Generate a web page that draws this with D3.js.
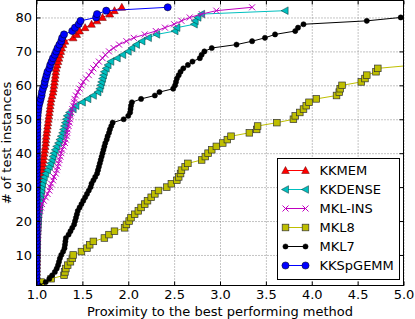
<!DOCTYPE html>
<html>
<head>
<meta charset="utf-8">
<script src="https://cdn.jsdelivr.net/npm/d3@7"></script>
<style>
  body { margin: 0; background: #fff; }
  svg { display: block; font-family: "DejaVu Sans", sans-serif; }
  .grid line { stroke: #888; stroke-width: 1; stroke-dasharray: 1,2; }
  .grid path { display: none; }
</style>
</head>
<body>
<div id="chart"></div>
<script>
// performance profile: k-th value is the ratio of the k-th instance (y = k)
var kkmem = [1.000,1.000,1.000,1.001,1.001,1.002,1.002,1.003,1.003,1.004,
  1.004,1.005,1.005,1.006,1.007,1.008,1.009,1.010,1.011,1.012,
  1.013,1.015,1.017,1.019,1.021,1.023,1.025,1.028,1.031,1.035,
  1.040,1.045,1.050,1.055,1.060,1.065,1.070,1.075,1.080,1.085,
  1.090,1.095,1.100,1.102,1.105,1.110,1.115,1.120,1.125,1.130,
  1.135,1.140,1.145,1.150,1.155,1.160,1.170,1.180,1.185,1.190,
  1.195,1.200,1.205,1.210,1.215,1.225,1.235,1.245,1.255,1.265,
  1.275,1.290,1.310,1.400,1.440,1.470,1.530,1.600,1.660,1.720,
  1.800,1.850,1.930];
var kkdense = [1.000,1.000,1.001,1.001,1.002,1.002,1.003,1.004,1.005,1.006,
  1.007,1.008,1.009,1.010,1.011,1.012,1.014,1.016,1.018,1.020,
  1.022,1.025,1.028,1.031,1.035,1.040,1.045,1.050,1.055,1.060,
  1.065,1.075,1.085,1.100,1.120,1.140,1.155,1.170,1.180,1.190,
  1.205,1.220,1.240,1.255,1.270,1.285,1.295,1.305,1.315,1.325,
  1.335,1.360,1.400,1.430,1.500,1.560,1.620,1.670,1.690,1.700,
  1.710,1.720,1.730,1.740,1.760,1.780,1.810,1.880,1.940,2.000,
  2.040,2.090,2.150,2.220,2.310,2.510,2.530,2.720,2.730,2.760,
  2.800,3.710];
var mklIns = [1.000,1.001,1.002,1.003,1.004,1.005,1.006,1.007,1.008,1.009,
  1.010,1.011,1.012,1.013,1.014,1.015,1.016,1.017,1.018,1.019,
  1.020,1.030,1.040,1.050,1.060,1.080,1.100,1.120,1.140,1.150,
  1.160,1.180,1.190,1.210,1.220,1.230,1.240,1.250,1.260,1.270,
  1.280,1.295,1.310,1.320,1.330,1.335,1.340,1.350,1.360,1.365,
  1.370,1.380,1.390,1.400,1.410,1.415,1.430,1.450,1.470,1.490,
  1.510,1.540,1.570,1.600,1.620,1.650,1.680,1.720,1.750,1.790,
  1.840,1.900,1.980,2.060,2.180,2.300,2.400,2.500,2.580,2.670,
  2.800,2.960,3.350];
var mkl8 = [1.000,1.050,1.160,1.300,1.310,1.320,1.340,1.370,1.390,1.400,
  1.490,1.550,1.580,1.620,1.740,1.790,1.850,1.960,1.980,2.010,
  2.030,2.070,2.110,2.140,2.180,2.210,2.250,2.290,2.330,2.420,
  2.470,2.530,2.550,2.570,2.580,2.620,2.650,2.800,2.840,2.870,
  2.910,2.960,3.030,3.080,3.120,3.320,3.400,3.410,3.620,3.800,
  3.820,3.870,3.910,3.940,3.970,4.050,4.270,4.300,4.310,4.330,
  4.540,4.580,4.600,4.700,4.720,5.130];
var mkl7 = [1.030,1.100,1.140,1.170,1.200,1.220,1.235,1.245,1.255,1.270,
  1.290,1.305,1.310,1.315,1.320,1.350,1.370,1.390,1.410,1.420,
  1.430,1.440,1.450,1.470,1.490,1.510,1.530,1.550,1.570,1.590,
  1.600,1.620,1.640,1.660,1.670,1.680,1.690,1.700,1.710,1.720,
  1.730,1.740,1.750,1.765,1.775,1.790,1.800,1.815,1.830,1.950,
  2.000,2.020,2.025,2.030,2.040,2.140,2.290,2.340,2.490,2.510,
  2.520,2.530,2.550,2.570,2.600,2.650,2.700,2.780,2.800,2.830,
  2.910,3.180,3.350,3.490,3.600,3.820,3.850,3.910,4.600,4.970];
var kkspgemm = [1.000,1.000,1.000,1.000,1.000,1.000,1.000,1.000,1.000,1.000,
  1.000,1.000,1.000,1.000,1.000,1.000,1.000,1.000,1.000,1.000,
  1.001,1.001,1.001,1.001,1.001,1.002,1.002,1.002,1.002,1.002,
  1.003,1.003,1.003,1.003,1.003,1.004,1.004,1.004,1.005,1.005,
  1.006,1.006,1.007,1.007,1.008,1.008,1.009,1.009,1.010,1.010,
  1.012,1.015,1.020,1.025,1.035,1.045,1.055,1.060,1.070,1.085,
  1.090,1.100,1.110,1.120,1.140,1.150,1.165,1.180,1.200,1.215,
  1.230,1.250,1.270,1.280,1.300,1.390,1.420,1.460,1.480,1.650,
  1.660,1.760,2.430];

var names = ["KKMEM", "KKDENSE", "MKL-INS", "MKL8", "MKL7", "KKSpGEMM"];
var values = [kkmem, kkdense, mklIns, mkl8, mkl7, kkspgemm];
var colors = ["#ff0000", "#00bfbf", "#bf00bf", "#bfbf00", "#000000", "#0000ff"];
var markers = ["tri-up", "tri-left", "x", "square", "dot", "circle"];
var xTicks = [1.0, 1.5, 2.0, 2.5, 3.0, 3.5, 4.0, 4.5, 5.0];
var yTicks = [10, 20, 30, 40, 50, 60, 70, 80];

var W = 415, H = 319;
var pL = 36.5, pR = 403.5, pT = 0.5, pB = 285.5;

var x = d3.scaleLinear().domain([1, 5]).range([pL, pR]);
var y = d3.scaleLinear().domain([1, 85]).range([pB, pT]);

var svg = d3.select("#chart").append("svg").attr("width", W).attr("height", H);

// grid
svg.append("g").attr("class", "grid")
  .attr("transform", "translate(0," + pB + ")")
  .call(d3.axisBottom(x).tickValues(xTicks).tickSize(-(pB - pT)).tickFormat(""));
svg.append("g").attr("class", "grid")
  .attr("transform", "translate(" + pL + ",0)")
  .call(d3.axisLeft(y).tickValues(yTicks).tickSize(-(pR - pL)).tickFormat(""));

svg.append("clipPath").attr("id", "plot")
  .append("rect").attr("x", pL).attr("y", pT)
  .attr("width", pR - pL).attr("height", pB - pT);

var plot = svg.append("g").attr("clip-path", "url(#plot)");

function drawMarker(g, kind, color) {
  if (kind == "circle") {
    g.append("circle").attr("r", 3.6).attr("fill", color).attr("stroke", "#000").attr("stroke-width", 0.5);
  } else if (kind == "dot") {
    g.append("circle").attr("r", 2.6).attr("fill", color).attr("stroke", "#000").attr("stroke-width", 0.5);
  } else if (kind == "square") {
    g.append("rect").attr("x", -3.3).attr("y", -3.3).attr("width", 6.6).attr("height", 6.6)
      .attr("fill", color).attr("stroke", "#333").attr("stroke-width", 0.7);
  } else if (kind == "tri-up") {
    g.append("path").attr("d", "M0,-4L3.8,3L-3.8,3Z").attr("fill", color).attr("stroke", "#600").attr("stroke-width", 0.5);
  } else if (kind == "tri-left") {
    g.append("path").attr("d", "M-4,0L3,-3.8L3,3.8Z").attr("fill", color).attr("stroke", "#033").attr("stroke-width", 0.5);
  } else if (kind == "x") {
    g.append("path").attr("d", "M-3,-3L3,3M-3,3L3,-3").attr("stroke", color).attr("stroke-width", 1).attr("fill", "none");
  }
}

var line = d3.line().x(function(d, i) { return x(d); }).y(function(d, i) { return y(i + 1); });

values.forEach(function(series, s) {
  plot.append("path").datum(series)
    .attr("d", line)
    .attr("fill", "none")
    .attr("stroke", colors[s])
    .attr("stroke-width", 1);
  plot.selectAll(null).data(series).enter().append("g")
    .attr("transform", function(d, i) { return "translate(" + x(d) + "," + y(i + 1) + ")"; })
    .each(function() { drawMarker(d3.select(this), markers[s], colors[s]); });
});

// ticks on all four sides, pointing inward
var axB = svg.append("g").attr("transform", "translate(0," + pB + ")")
  .call(d3.axisBottom(x).tickValues(xTicks).tickSize(-4).tickPadding(4).tickFormat(d3.format(".1f")));
var axT = svg.append("g").attr("transform", "translate(0," + pT + ")")
  .call(d3.axisTop(x).tickValues(xTicks).tickSize(-4).tickFormat(""));
var axL = svg.append("g").attr("transform", "translate(" + pL + ",0)")
  .call(d3.axisLeft(y).tickValues(yTicks).tickSize(-4).tickPadding(4.5));
var axR = svg.append("g").attr("transform", "translate(" + pR + ",0)")
  .call(d3.axisRight(y).tickValues(yTicks).tickSize(-4).tickFormat(""));
[axB, axT, axL, axR].forEach(function(a) {
  a.select(".domain").remove();
  a.selectAll("line").attr("stroke", "#000");
  a.selectAll("text").attr("font-size", 13).attr("fill", "#000").attr("font-family", "DejaVu Sans");
});

svg.append("rect").attr("x", pL).attr("y", pT)
  .attr("width", pR - pL).attr("height", pB - pT)
  .attr("fill", "none").attr("stroke", "#000").attr("stroke-width", 1);

svg.append("text").attr("x", (pL + pR) / 2).attr("y", 315.5)
  .attr("text-anchor", "middle").attr("font-size", 13)
  .text("Proximity to the best performing method");
svg.append("text").attr("transform", "translate(11," + ((pT + pB) / 2) + ") rotate(-90)")
  .attr("text-anchor", "middle").attr("font-size", 13)
  .text("# of test instances");

// legend
var lg = svg.append("g").attr("transform", "translate(277.5,158.5)");
lg.append("rect").attr("width", 122).attr("height", 121)
  .attr("fill", "#fff").attr("stroke", "#000").attr("stroke-width", 1);
names.forEach(function(n, s) {
  var row = lg.append("g").attr("transform", "translate(0," + (12 + s * 19) + ")");
  row.append("line").attr("x1", 8).attr("x2", 28).attr("stroke", colors[s]).attr("stroke-width", 1);
  [8, 28].forEach(function(px) {
    drawMarker(row.append("g").attr("transform", "translate(" + px + ",0)"), markers[s], colors[s]);
  });
  row.append("text").attr("x", 42).attr("y", 4.5).attr("font-size", 13).text(n);
});
</script>
</body>
</html>
